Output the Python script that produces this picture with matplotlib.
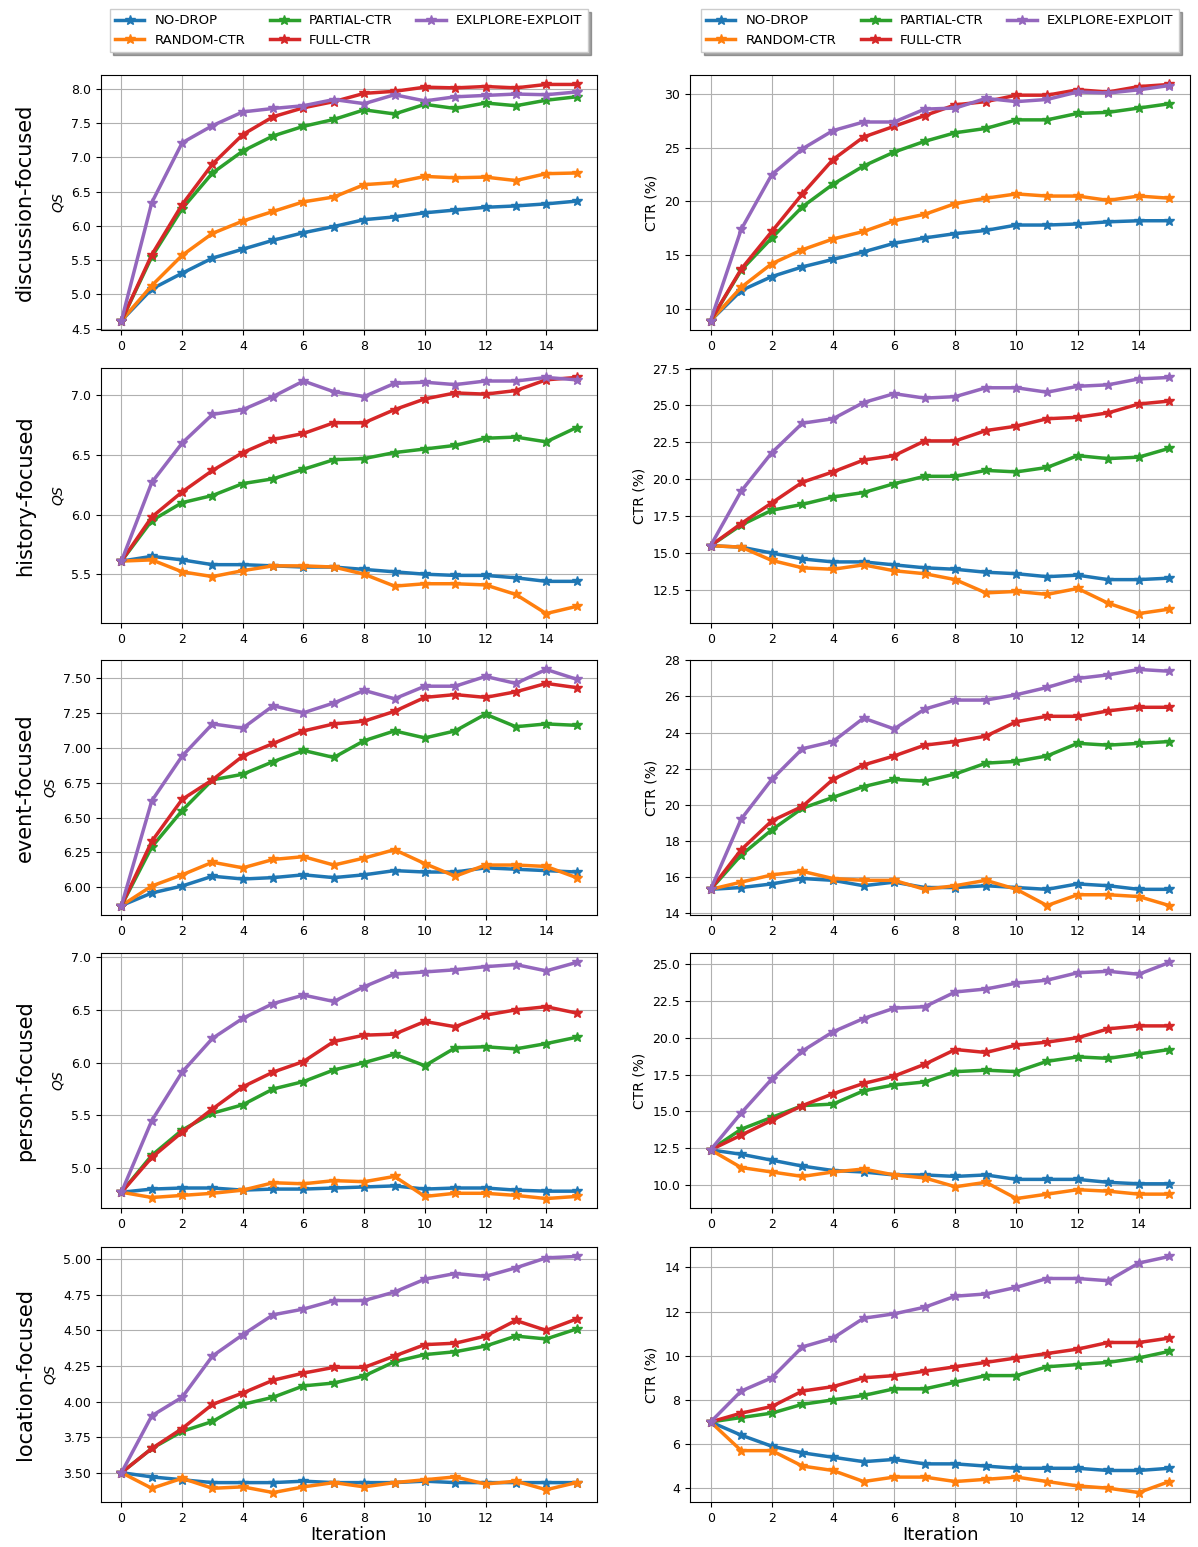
import matplotlib
matplotlib.use('Agg')
import matplotlib.pyplot as plt
from matplotlib.ticker import MultipleLocator

iterations = list(range(16))
series_names = ["NO-DROP", "RANDOM-CTR", "PARTIAL-CTR", "FULL-CTR", "EXLPLORE-EXPLOIT"]
colors = ["#1f77b4", "#ff7f0e", "#2ca02c", "#d62728", "#9467bd"]
row_labels = ["discussion-focused", "history-focused", "event-focused", "person-focused", "location-focused"]

discussion_qs = [
    [4.62, 5.08, 5.31, 5.53, 5.66, 5.79, 5.90, 5.99, 6.09, 6.13, 6.19, 6.23, 6.27, 6.29, 6.32, 6.36],
    [4.62, 5.13, 5.57, 5.89, 6.07, 6.21, 6.35, 6.42, 6.60, 6.63, 6.72, 6.70, 6.71, 6.66, 6.76, 6.77],
    [4.62, 5.55, 6.25, 6.77, 7.09, 7.31, 7.45, 7.55, 7.69, 7.63, 7.77, 7.71, 7.79, 7.75, 7.83, 7.88],
    [4.62, 5.58, 6.31, 6.90, 7.33, 7.59, 7.72, 7.81, 7.93, 7.96, 8.02, 8.01, 8.03, 8.01, 8.06, 8.06],
    [4.62, 6.34, 7.21, 7.46, 7.66, 7.71, 7.75, 7.84, 7.78, 7.91, 7.82, 7.88, 7.90, 7.92, 7.91, 7.95],
]
discussion_ctr = [
    [8.9, 11.7, 13.0, 13.9, 14.6, 15.3, 16.1, 16.6, 17.0, 17.3, 17.8, 17.8, 17.9, 18.1, 18.2, 18.2],
    [8.9, 12.0, 14.2, 15.5, 16.5, 17.2, 18.2, 18.8, 19.8, 20.3, 20.7, 20.5, 20.5, 20.1, 20.5, 20.3],
    [8.9, 13.6, 16.6, 19.5, 21.6, 23.3, 24.6, 25.6, 26.4, 26.8, 27.6, 27.6, 28.2, 28.3, 28.7, 29.1],
    [8.9, 13.7, 17.2, 20.7, 23.9, 26.0, 27.0, 28.0, 29.0, 29.3, 29.9, 29.9, 30.4, 30.2, 30.7, 30.9],
    [8.9, 17.4, 22.5, 24.9, 26.6, 27.4, 27.4, 28.6, 28.7, 29.6, 29.3, 29.5, 30.2, 30.1, 30.4, 30.8],
]
history_qs = [
    [5.61, 5.65, 5.62, 5.58, 5.58, 5.57, 5.56, 5.56, 5.54, 5.52, 5.50, 5.49, 5.49, 5.47, 5.44, 5.44],
    [5.61, 5.62, 5.52, 5.48, 5.53, 5.57, 5.57, 5.56, 5.50, 5.40, 5.42, 5.42, 5.41, 5.33, 5.17, 5.23],
    [5.61, 5.95, 6.10, 6.16, 6.26, 6.30, 6.38, 6.46, 6.47, 6.52, 6.55, 6.58, 6.64, 6.65, 6.61, 6.73],
    [5.61, 5.98, 6.19, 6.37, 6.52, 6.63, 6.68, 6.77, 6.77, 6.88, 6.97, 7.02, 7.01, 7.04, 7.13, 7.15],
    [5.61, 6.27, 6.60, 6.84, 6.88, 6.99, 7.12, 7.03, 6.99, 7.10, 7.11, 7.09, 7.12, 7.12, 7.15, 7.13],
]
history_ctr = [
    [15.5, 15.4, 15.0, 14.6, 14.4, 14.4, 14.2, 14.0, 13.9, 13.7, 13.6, 13.4, 13.5, 13.2, 13.2, 13.3],
    [15.5, 15.4, 14.5, 14.0, 13.9, 14.2, 13.8, 13.6, 13.2, 12.3, 12.4, 12.2, 12.6, 11.6, 10.9, 11.2],
    [15.5, 16.9, 17.9, 18.3, 18.8, 19.1, 19.7, 20.2, 20.2, 20.6, 20.5, 20.8, 21.6, 21.4, 21.5, 22.1],
    [15.5, 17.0, 18.4, 19.8, 20.5, 21.3, 21.6, 22.6, 22.6, 23.3, 23.6, 24.1, 24.2, 24.5, 25.1, 25.3],
    [15.5, 19.2, 21.8, 23.8, 24.1, 25.2, 25.8, 25.5, 25.6, 26.2, 26.2, 25.9, 26.3, 26.4, 26.8, 26.9],
]
event_qs = [
    [5.87, 5.96, 6.01, 6.08, 6.06, 6.07, 6.09, 6.07, 6.09, 6.12, 6.11, 6.11, 6.14, 6.13, 6.12, 6.11],
    [5.87, 6.01, 6.09, 6.18, 6.14, 6.20, 6.22, 6.16, 6.21, 6.27, 6.17, 6.08, 6.16, 6.16, 6.15, 6.07],
    [5.87, 6.29, 6.55, 6.77, 6.81, 6.90, 6.98, 6.93, 7.05, 7.12, 7.07, 7.12, 7.24, 7.15, 7.17, 7.16],
    [5.87, 6.33, 6.63, 6.77, 6.94, 7.03, 7.12, 7.17, 7.19, 7.26, 7.36, 7.38, 7.36, 7.40, 7.46, 7.43],
    [5.87, 6.62, 6.94, 7.17, 7.14, 7.30, 7.25, 7.32, 7.41, 7.35, 7.44, 7.44, 7.51, 7.46, 7.56, 7.49],
]
event_ctr = [
    [15.3, 15.4, 15.6, 15.9, 15.8, 15.5, 15.7, 15.4, 15.4, 15.5, 15.4, 15.3, 15.6, 15.5, 15.3, 15.3],
    [15.3, 15.7, 16.1, 16.3, 15.9, 15.8, 15.8, 15.3, 15.5, 15.8, 15.3, 14.4, 15.0, 15.0, 14.9, 14.4],
    [15.3, 17.2, 18.6, 19.8, 20.4, 21.0, 21.4, 21.3, 21.7, 22.3, 22.4, 22.7, 23.4, 23.3, 23.4, 23.5],
    [15.3, 17.5, 19.1, 19.9, 21.4, 22.2, 22.7, 23.3, 23.5, 23.8, 24.6, 24.9, 24.9, 25.2, 25.4, 25.4],
    [15.3, 19.2, 21.4, 23.1, 23.5, 24.8, 24.2, 25.3, 25.8, 25.8, 26.1, 26.5, 27.0, 27.2, 27.5, 27.4],
]
person_qs = [
    [4.77, 4.80, 4.81, 4.81, 4.79, 4.80, 4.80, 4.81, 4.82, 4.83, 4.80, 4.81, 4.81, 4.79, 4.78, 4.78],
    [4.77, 4.72, 4.74, 4.76, 4.79, 4.86, 4.85, 4.88, 4.87, 4.92, 4.73, 4.76, 4.76, 4.74, 4.71, 4.73],
    [4.77, 5.12, 5.36, 5.52, 5.60, 5.75, 5.82, 5.93, 6.00, 6.08, 5.97, 6.14, 6.15, 6.13, 6.18, 6.24],
    [4.77, 5.10, 5.34, 5.56, 5.77, 5.91, 6.01, 6.20, 6.26, 6.27, 6.39, 6.34, 6.45, 6.50, 6.53, 6.47],
    [4.77, 5.45, 5.91, 6.23, 6.42, 6.56, 6.64, 6.58, 6.72, 6.84, 6.86, 6.88, 6.91, 6.93, 6.87, 6.95],
]
person_ctr = [
    [12.4, 12.1, 11.7, 11.3, 11.0, 10.9, 10.7, 10.7, 10.6, 10.7, 10.4, 10.4, 10.4, 10.2, 10.1, 10.1],
    [12.4, 11.2, 10.9, 10.6, 10.9, 11.1, 10.7, 10.5, 9.9, 10.2, 9.1, 9.4, 9.7, 9.6, 9.4, 9.4],
    [12.4, 13.8, 14.6, 15.4, 15.5, 16.4, 16.8, 17.0, 17.7, 17.8, 17.7, 18.4, 18.7, 18.6, 18.9, 19.2],
    [12.4, 13.4, 14.4, 15.4, 16.2, 16.9, 17.4, 18.2, 19.2, 19.0, 19.5, 19.7, 20.0, 20.6, 20.8, 20.8],
    [12.4, 14.9, 17.2, 19.1, 20.4, 21.3, 22.0, 22.1, 23.1, 23.3, 23.7, 23.9, 24.4, 24.5, 24.3, 25.1],
]
location_qs = [
    [3.50, 3.47, 3.45, 3.43, 3.43, 3.43, 3.44, 3.43, 3.43, 3.43, 3.44, 3.43, 3.43, 3.43, 3.43, 3.43],
    [3.50, 3.39, 3.46, 3.39, 3.40, 3.36, 3.40, 3.43, 3.40, 3.43, 3.45, 3.47, 3.42, 3.44, 3.38, 3.43],
    [3.50, 3.67, 3.79, 3.86, 3.98, 4.03, 4.11, 4.13, 4.18, 4.28, 4.33, 4.35, 4.39, 4.46, 4.44, 4.51],
    [3.50, 3.67, 3.81, 3.98, 4.06, 4.15, 4.20, 4.24, 4.24, 4.32, 4.40, 4.41, 4.46, 4.57, 4.50, 4.58],
    [3.50, 3.90, 4.03, 4.32, 4.47, 4.61, 4.65, 4.71, 4.71, 4.77, 4.86, 4.90, 4.88, 4.94, 5.01, 5.02],
]
location_ctr = [
    [7.0, 6.4, 5.9, 5.6, 5.4, 5.2, 5.3, 5.1, 5.1, 5.0, 4.9, 4.9, 4.9, 4.8, 4.8, 4.9],
    [7.0, 5.7, 5.7, 5.0, 4.8, 4.3, 4.5, 4.5, 4.3, 4.4, 4.5, 4.3, 4.1, 4.0, 3.8, 4.3],
    [7.0, 7.2, 7.4, 7.8, 8.0, 8.2, 8.5, 8.5, 8.8, 9.1, 9.1, 9.5, 9.6, 9.7, 9.9, 10.2],
    [7.0, 7.4, 7.7, 8.4, 8.6, 9.0, 9.1, 9.3, 9.5, 9.7, 9.9, 10.1, 10.3, 10.6, 10.6, 10.8],
    [7.0, 8.4, 9.0, 10.4, 10.8, 11.7, 11.9, 12.2, 12.7, 12.8, 13.1, 13.5, 13.5, 13.4, 14.2, 14.5],
]

panels = [
    (discussion_qs, discussion_ctr),
    (history_qs, history_ctr),
    (event_qs, event_ctr),
    (person_qs, person_ctr),
    (location_qs, location_ctr),
]
# y tick spacing per panel (qs, ctr)
tick_steps = [(0.5, 5), (0.5, 2.5), (0.25, 2), (0.5, 2.5), (0.25, 2)]

W, H = 1198, 1547
fig = plt.figure(figsize=(W / 100, H / 100), dpi=100)
row_tops = [75, 368, 660, 953, 1247]
row_h = 255
col_lefts = [101, 690]
col_w = [496, 500]

for r, (qs, ctr) in enumerate(panels):
    for c, data in enumerate((qs, ctr)):
        ax = fig.add_axes([col_lefts[c] / W, 1 - (row_tops[r] + row_h) / H,
                           col_w[c] / W, row_h / H])
        for vals, name, col in zip(data, series_names, colors):
            ax.plot(iterations, vals, color=col, lw=2.5, marker='*', ms=7, label=name)
        ax.grid(True, color='#b0b0b0', lw=0.8)
        ax.set_xticks(range(0, 16, 2))
        ax.yaxis.set_major_locator(MultipleLocator(tick_steps[r][c]))
        ax.margins(x=0.045, y=0.04)
        ax.tick_params(labelsize=9)
        ax.set_ylabel('$QS$' if c == 0 else 'CTR (%)', fontsize=10)
        if r == 4:
            ax.set_xlabel('Iteration', fontsize=13, labelpad=1)
        if r == 0:
            ax.legend(loc='lower center', bbox_to_anchor=(0.5, 1.09), ncol=3,
                      fontsize=9.5, shadow=True, fancybox=False,
                      handlelength=2.2, columnspacing=1.8, borderaxespad=0)
    fig.text(25 / W, 1 - (row_tops[r] + row_h / 2) / H, row_labels[r],
             rotation=90, fontsize=15, ha='center', va='center')

plt.savefig('out.png', dpi=100)
